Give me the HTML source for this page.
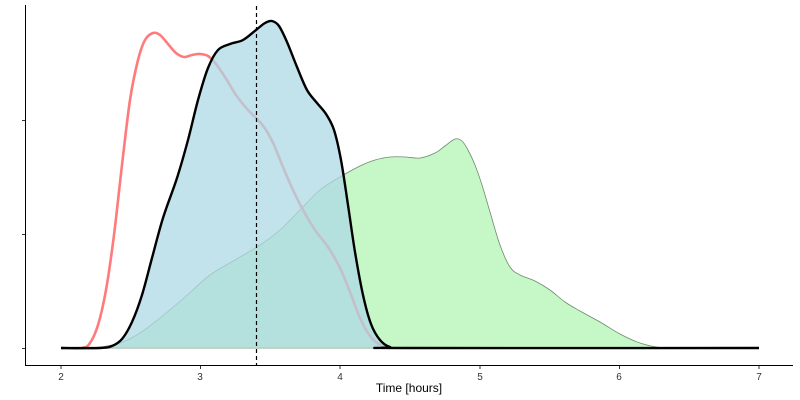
<!DOCTYPE html>
<html><head><meta charset="utf-8"><style>
html,body{margin:0;padding:0;background:#fff;}
svg{display:block;font-family:"Liberation Sans",sans-serif;}
</style></head><body>
<svg width="800" height="400" viewBox="0 0 800 400">
<path id="g" fill="#c6f7c6" stroke="#6f8a6f" stroke-width="0.8"/>
<path id="r" fill="none" stroke="#ff7b7b" stroke-width="2.6" stroke-linejoin="round"/>
<path id="bf" fill="#add8e6" fill-opacity="0.75"/>
<path id="bl" fill="none" stroke="#000" stroke-width="2.4" stroke-linejoin="round"/>
<line x1="256.5" y1="6" x2="256.5" y2="366" stroke="#000" stroke-width="1.2" stroke-dasharray="4,3"/>
<line x1="25.5" y1="5" x2="25.5" y2="366" stroke="#000" stroke-width="1"/>
<line x1="25" y1="365.5" x2="793" y2="365.5" stroke="#000" stroke-width="1"/>
<g stroke="#333" stroke-width="1">
<line x1="22" y1="120.5" x2="25" y2="120.5"/>
<line x1="22" y1="234.5" x2="25" y2="234.5"/>
<line x1="22" y1="348.5" x2="25" y2="348.5"/>
<line x1="61" y1="366" x2="61" y2="369"/>
<line x1="200.5" y1="366" x2="200.5" y2="369"/>
<line x1="340" y1="366" x2="340" y2="369"/>
<line x1="480" y1="366" x2="480" y2="369"/>
<line x1="619.5" y1="366" x2="619.5" y2="369"/>
<line x1="759" y1="366" x2="759" y2="369"/>
</g>
<g font-size="10" fill="#333" text-anchor="middle">
<text x="61" y="380">2</text>
<text x="200" y="380">3</text>
<text x="340" y="380">4</text>
<text x="480" y="380">5</text>
<text x="619" y="380">6</text>
<text x="759" y="380">7</text>
</g>
<text x="409" y="392" font-size="12" text-anchor="middle" fill="#000">Time [hours]</text>
</svg>
<script>
function sm(p){var d="M"+p[0][0]+","+p[0][1];
for(var i=0;i<p.length-1;i++){var a=p[i-1]||p[i],b=p[i],c=p[i+1],e=p[i+2]||c;
d+=" C"+(b[0]+(c[0]-a[0])/6)+","+(b[1]+(c[1]-a[1])/6)+" "+(c[0]-(e[0]-b[0])/6)+","+(c[1]-(e[1]-b[1])/6)+" "+c[0]+","+c[1];}
return d;}
var G=[[95,348],[120,343],[140,333],[160,318],[185,297],[210,275],[235,260],[260,245],[280,230],[300,210],[320,190],[340,177],[360,166],[375,160],[390,157],[405,157],[420,158],[435,153],[445,146],[455,139],[462,141],[468,150],[475,165],[482,185],[490,212],[500,245],[510,267],[520,275],[535,281],[550,290],[565,302],[580,311],[600,322],[620,334],[640,343],[660,347.5],[680,348],[759,348]];
var R=[[61,348],[82,348],[90,343],[98,325],[106,290],[114,235],[122,165],[130,100],[138,60],[145,40],[153,33],[160,35],[168,44],[176,53],[184,57],[192,55],[200,54],[208,56],[216,64],[225,77],[236,95],[248,110],[258,120],[266,130],[274,145],[283,167],[293,190],[303,210],[315,230],[328,247],[340,268],[350,292],[360,318],[370,336],[380,345],[390,348]];
var B=[[61,348],[100,348],[112,346],[122,339],[132,322],[142,295],[152,258],[163,218],[177,178],[188,140],[198,100],[208,68],[218,50],[230,44],[243,40],[256,30],[265,23],[272,21],[279,26],[287,42],[297,67],[307,90],[317,103],[326,114],[334,130],[341,160],[348,205],[355,252],[363,295],[371,324],[380,340],[390,347],[405,348],[759,348]];
document.getElementById('g').setAttribute('d',sm(G)+" Z");
document.getElementById('r').setAttribute('d',sm(R));
document.getElementById('bf').setAttribute('d',sm(B)+" Z");
document.getElementById('bl').setAttribute('d',sm(B));
</script>
</body></html>
